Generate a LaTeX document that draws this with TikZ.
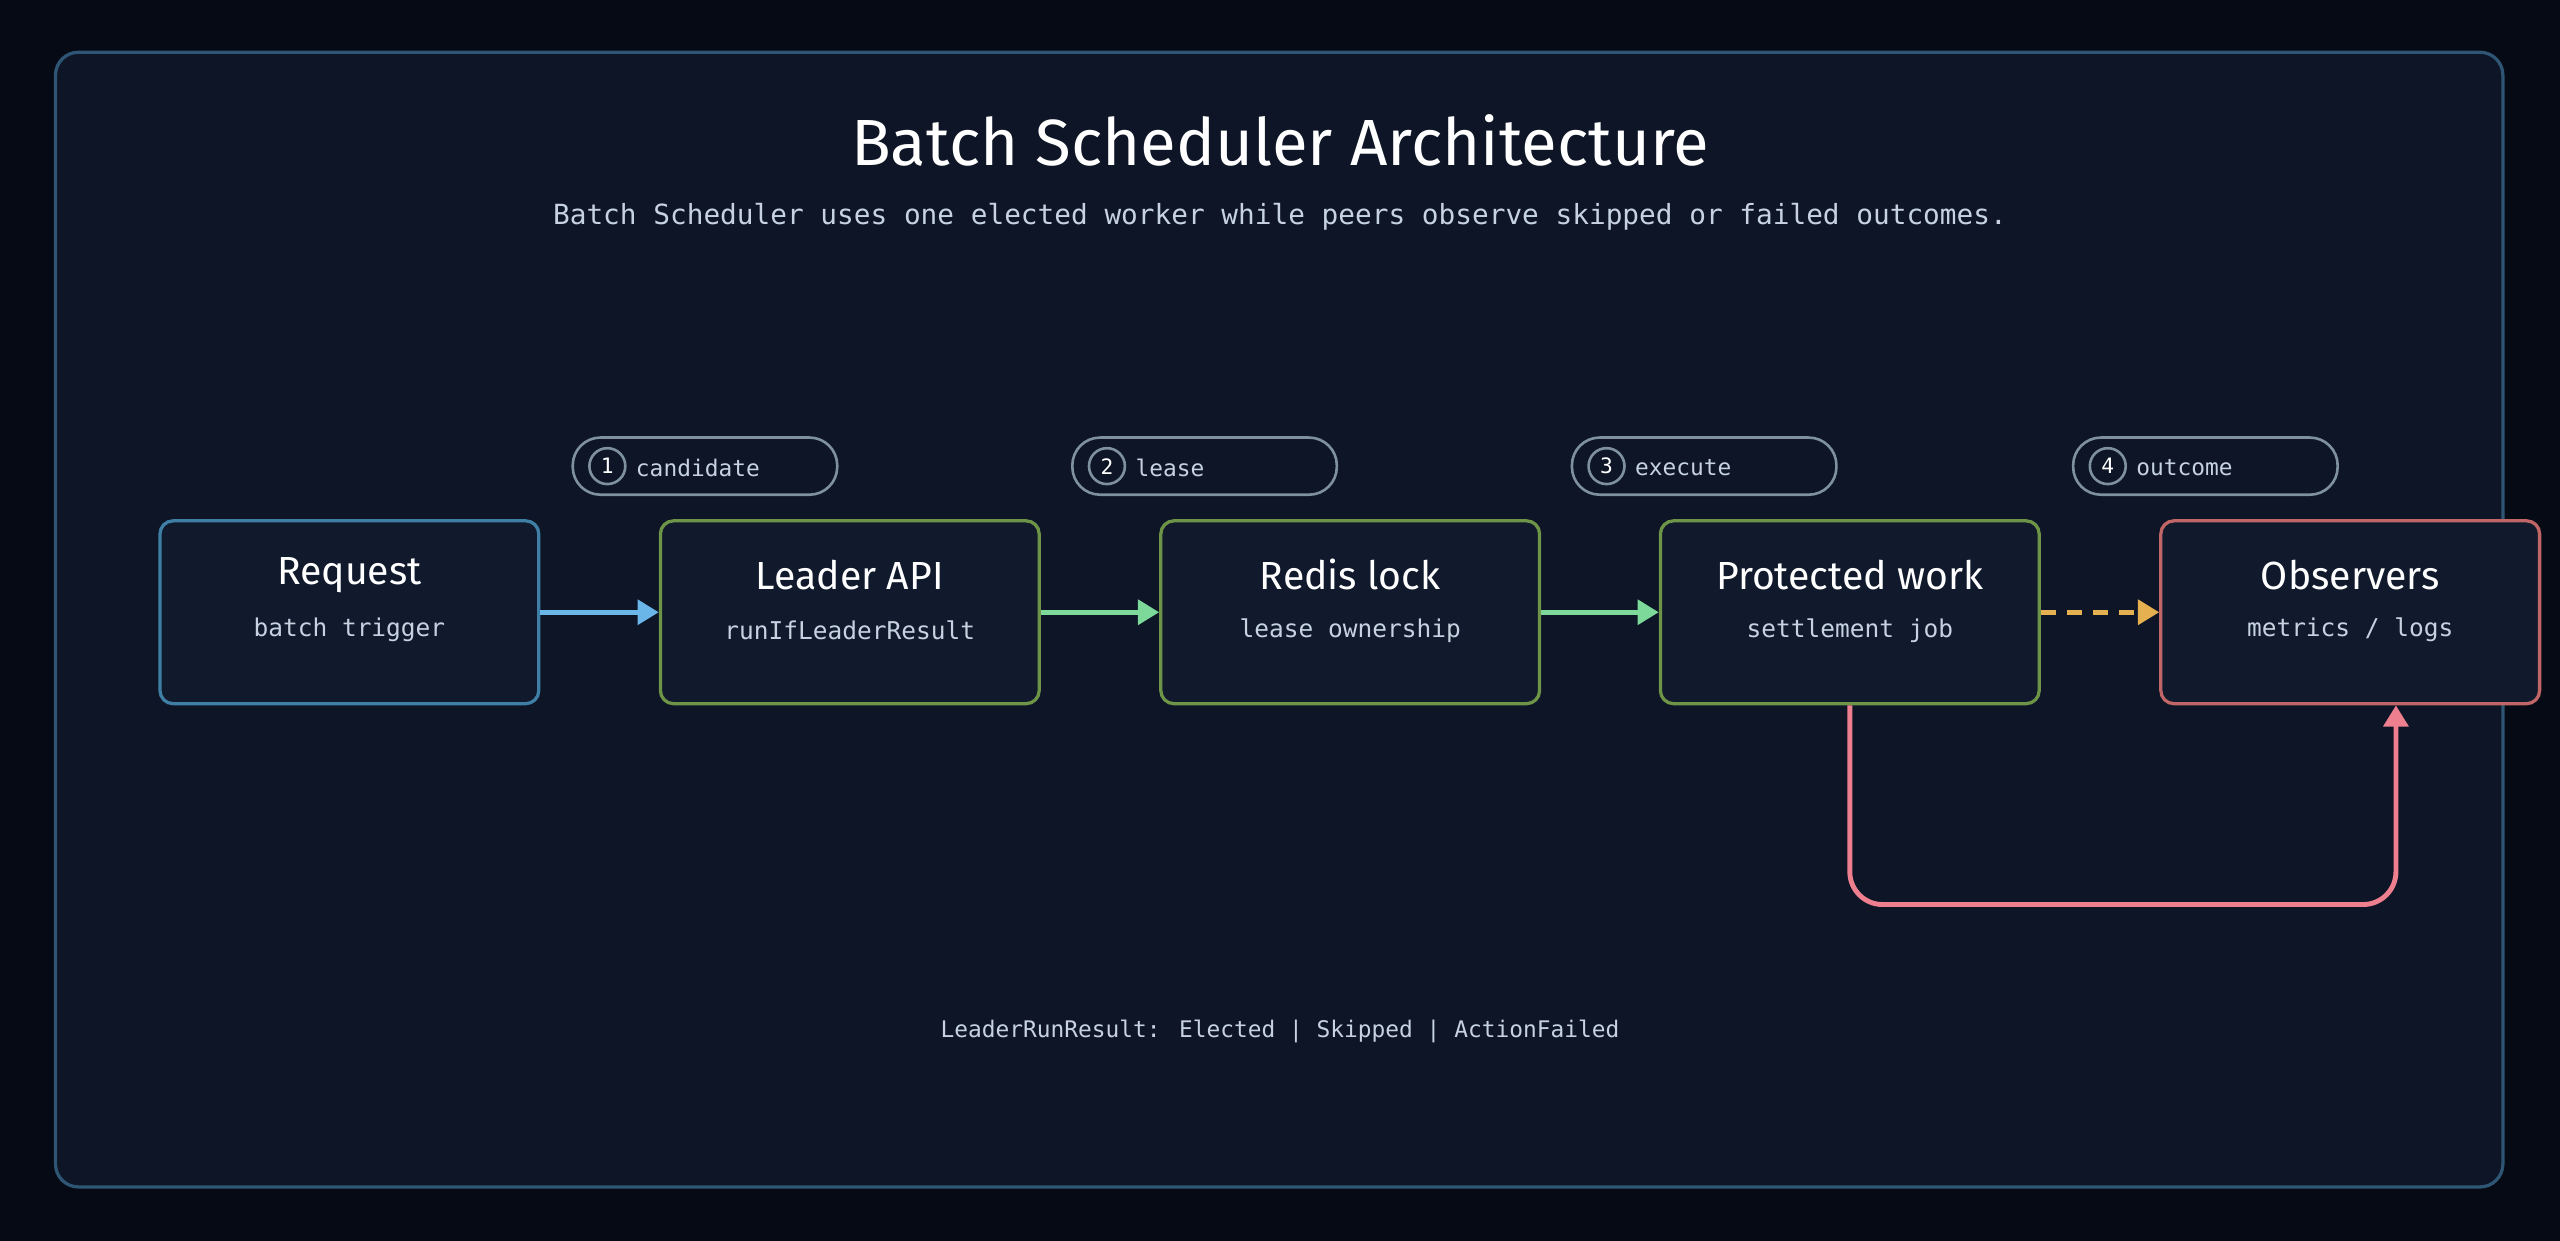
\documentclass[tikz,border=0pt]{standalone}
\usepackage{fontspec}
\setmainfont{Fira Sans}
\newfontfamily\codefont{DejaVu Sans Mono}
\usetikzlibrary{arrows.meta}
\definecolor{pagebg}{HTML}{060A14}
\definecolor{panelbg}{HTML}{0D1526}
\definecolor{panelline}{HTML}{2E5674}
\definecolor{boxbg}{HTML}{101A2C}
\definecolor{bluel}{HTML}{3F7FA6}
\definecolor{greenl}{HTML}{6E9448}
\definecolor{redl}{HTML}{C06666}
\definecolor{arrblue}{HTML}{6BB6E8}
\definecolor{arrgreen}{HTML}{7DD99A}
\definecolor{arrgold}{HTML}{E5B050}
\definecolor{arrred}{HTML}{EE7F8E}
\definecolor{pillline}{HTML}{7F909E}
\definecolor{subtext}{HTML}{C6D2E0}
\tikzset{
  stage/.style={draw, line width=2pt, fill=boxbg, rounded corners=8pt,
    minimum width=232pt, minimum height=112pt, inner sep=0pt},
  head/.style={text=white, font=\fontsize{24}{28}\selectfont},
  sub/.style={text=subtext, font=\codefont\fontsize{15}{18}\selectfont},
  pill/.style={draw=pillline, line width=1.6pt, rounded corners=17pt,
    minimum width=162pt, minimum height=35pt},
  num/.style={circle, draw=pillline, line width=1.6pt, minimum size=22pt, inner sep=0pt,
    text=white, font=\codefont\fontsize{13}{15}\selectfont},
  steplabel/.style={text=subtext, font=\codefont\fontsize{14}{16}\selectfont, anchor=west},
  flow/.style={line width=3pt, -{Triangle[length=13pt,width=15pt]}}
}
\begin{document}
\begin{tikzpicture}[x=1pt,y=-1pt]
    \fill[pagebg] (0,0) rectangle (1568,760);
    \useasboundingbox (0,0) rectangle (1568,760);
    \draw[panelline, line width=2pt, fill=panelbg, rounded corners=14pt] (34,32) rectangle (1533,727);
    \node (title) at (784,86) [text=white, font=\fontsize{40}{46}\selectfont] {Batch Scheduler Architecture};
    \node (subtitle) at (784,133) [sub, font=\codefont\fontsize{17}{20}\selectfont] {Batch Scheduler uses one elected worker while peers observe skipped or failed outcomes.};
    % stages
    \node[stage, draw=bluel] (req) at (214,375) {};
    \node[stage, draw=greenl] (api) at (520.5,375) {};
    \node[stage, draw=greenl] (lock) at (827,375) {};
    \node[stage, draw=greenl] (work) at (1133,375) {};
    \node[stage, draw=redl] (obs) at (1439.5,375) {};
    \foreach \n/\h/\s in {req/Request/batch trigger, api/Leader API/runIfLeaderResult,
        lock/Redis lock/lease ownership, work/Protected work/settlement job, obs/Observers/{metrics / logs}} {
      \node[head] (\n-head) at ([yshift=23pt]\n.center) {\h};
      \node[sub] (\n-sub) at ([yshift=-11pt]\n.center) {\s};
    }
    % steps
    \foreach \i/\x/\t in {1/350/candidate, 2/656/lease, 3/962/execute, 4/1269/outcome} {
      \node[pill, anchor=west] (pill\i) at (\x,285.5) {};
      \node[num] (num\i) at (\x+22,285.5) {\i};
      \node[steplabel] (step\i) at (\x+36,286.5) {\t};
    }
    % connectors
    \draw[flow, arrblue] (req) -- (api);
    \draw[flow, arrgreen] (api) -- (lock);
    \draw[flow, arrgreen] (lock) -- (work);
    \draw[flow, arrgold, dash pattern=on 9pt off 7pt] (work) -- (obs);
    \draw[flow, arrred, rounded corners=20pt] (work.south) -- ++(0,122) -| ([xshift=28pt]obs.south);
    \node (footer) at (784,632) [sub, font=\codefont\fontsize{14}{16}\selectfont] {LeaderRunResult: Elected | Skipped | ActionFailed};
\end{tikzpicture}
\end{document}
